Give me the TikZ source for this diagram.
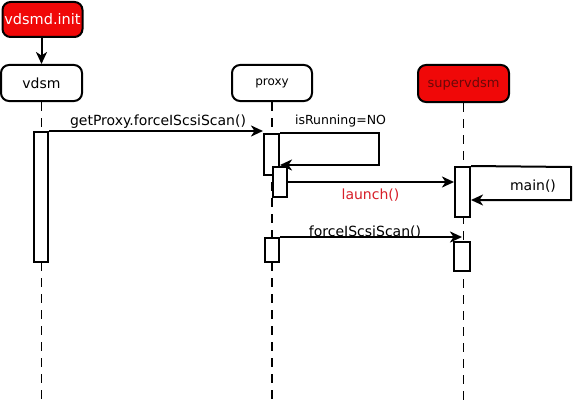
\documentclass[tikz,border=0pt]{standalone}
\usepackage{fontspec}
\setmainfont{DejaVu Sans}
\usetikzlibrary{arrows.meta}
\definecolor{boxred}{RGB}{240,8,8}
\definecolor{msgred}{RGB}{215,30,40}
\definecolor{darkred}{RGB}{105,8,8}
\tikzset{
  x=1pt, y=-1pt,
  headbox/.style={draw, line width=2pt, rounded corners=8pt, inner sep=0pt, anchor=center, fill=white},
  actbox/.style={draw, line width=2pt, fill=white, inner sep=0pt, anchor=center},
  lifeline/.style={line width=1.1pt, dash pattern=on 9pt off 7pt},
  msg/.style={line width=2pt, -{Stealth[length=12pt,width=11pt,inset=3.5pt]}},
  lbl/.style={anchor=base, inner sep=0pt, font=\fontsize{14}{16}\selectfont},
}
\begin{document}
\begin{tikzpicture}
\useasboundingbox (0,0) rectangle (573,404);
% heads
\node[headbox, fill=boxred, text=white, minimum width=80pt, minimum height=35pt, font=\fontsize{14.5}{16}\selectfont] (init) at (42.5,19.5) {vdsmd.init};
\node[headbox, minimum width=81pt, minimum height=36pt, font=\fontsize{14}{16}\selectfont] (vdsm) at (41.5,83) {vdsm};
\node[headbox, minimum width=80pt, minimum height=36pt, font=\fontsize{12}{14}\selectfont] (proxy) at (272,83) {proxy};
\node[headbox, fill=boxred, text=darkred, minimum width=91pt, minimum height=37pt, font=\fontsize{13}{15}\selectfont] (super) at (463.5,83.5) {supervdsm};
% lifeline ends
\coordinate (vdsmEnd) at (41.5,404);
\coordinate (proxyEnd) at (272,404);
\coordinate (superEnd) at (463.5,404);
\draw[lifeline] (vdsm.south) -- (vdsmEnd);
\draw[lifeline] (proxy.south) -- (proxyEnd);
\draw[lifeline] (super.south) -- (superEnd);
\draw[msg] (init.south -| vdsm.north) -- (vdsm.north);
% activations
\node[actbox, minimum width=14pt, minimum height=130pt] (a1) at (41,197) {};
\node[actbox, minimum width=15pt, minimum height=41pt] (p1) at (271.5,154.5) {};
\node[actbox, minimum width=14pt, minimum height=30pt] (p2) at (280,182) {};
\node[actbox, minimum width=15pt, minimum height=50pt] (s1) at (462.5,192) {};
\node[actbox, minimum width=14pt, minimum height=24pt] (p3) at (272,250) {};
\node[actbox, minimum width=16pt, minimum height=29pt] (s2) at (462,256.5) {};
% messages
\draw[msg] (a1.north east) -- (a1.north east -| p1.west);
\coordinate (loopA) at (379,133);
\coordinate (loopB) at (379,165);
\draw[msg] (p1.north east) -- (loopA) -- (loopB) -- (loopB -| p1.east);
\draw[msg] (p2.east) -- (p2.east -| s1.west);
\coordinate (mainA) at (571,167);
\coordinate (mainB) at (571,200);
\draw[msg] (s1.north east) -- (mainA) -- (mainB) -- (mainB -| s1.east);
\draw[msg] (p3.north east) -- (p3.north east -| s2.north);
% labels
\node[lbl] (l1) at (158,125) {getProxy.forceIScsiScan()};
\node[lbl, font=\fontsize{12.5}{14}\selectfont] (l2) at (340.5,124) {isRunning=NO};
\node[lbl, text=msgred] (l3) at (370.5,199) {launch()};
\node[lbl] (l4) at (533,190) {main()};
\node[lbl] (l5) at (365,236) {forceIScsiScan()};
\end{tikzpicture}
\end{document}
